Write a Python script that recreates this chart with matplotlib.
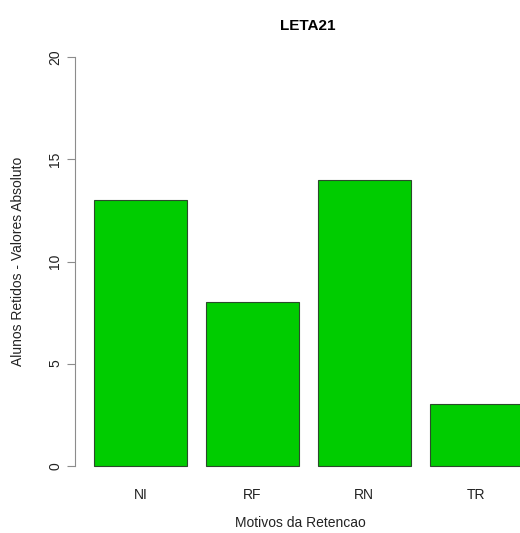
import matplotlib
matplotlib.use('Agg')
import matplotlib.pyplot as plt
import numpy as np

# --- Data ---
categories = ['NI', 'RF', 'RN', 'TR']
values = [13, 8, 14, 3]
y_ticks = [0, 5, 10, 15, 20]

BAR_COLOR = '#00cc00'
AXIS_COLOR = '#8c8c8c'
TEXT = '#222222'

plt.rcParams['font.family'] = ['Liberation Sans', 'DejaVu Sans']

fig = plt.figure(figsize=(5.2, 5.33), dpi=100)
# plot region mimics R barplot (extends past right edge, as in the source)
L, R, B, T = 76.8, 540, 482, 41
ax = fig.add_axes([L / 520, 1 - B / 533, (R - L) / 520, (B - T) / 533])

# R barplot geometry: width 1, space 0.2
lefts = 0.2 + np.arange(len(categories)) * 1.2
centers = lefts + 0.5
ax.bar(centers, values, width=1.0, color=BAR_COLOR, edgecolor='#2b4a2b', linewidth=0.8)

ax.set_xlim(0.016, 4.984)
ax.set_ylim(-0.8, 20.8)

for s in ['top', 'right', 'bottom']:
    ax.spines[s].set_visible(False)
ax.spines['left'].set_bounds(0, 20)
ax.spines['left'].set_color(AXIS_COLOR)
ax.spines['left'].set_position(('outward', 1.5))

ax.set_yticks(y_ticks)
ax.set_yticklabels([str(v) for v in y_ticks], rotation=90, va='center', fontsize=10, color=TEXT)
ax.tick_params(axis='y', length=6, color=AXIS_COLOR, pad=3)

ax.set_xticks(centers)
ax.set_xticklabels(categories, fontsize=10, color=TEXT)
ax.tick_params(axis='x', length=0, pad=4)

ax.set_xlabel('Motivos da Retencao', fontsize=10, color=TEXT, va='center')
ax.xaxis.set_label_coords(0.5 * (520 - L) / (R - L) + 0.0, (B - 523) / (B - T))
ax.xaxis.label.set_x((300 - L) / (R - L))
ax.set_ylabel('Alunos Retidos - Valores Absoluto', fontsize=10, color=TEXT, va='center')
ax.yaxis.set_label_coords((18 - L) / (R - L), 0.5)
fig.text(308 / 520, 1 - 26 / 533, 'LETA21', ha='center', va='center', fontsize=11, fontweight='bold')

fig.savefig('out.png', dpi=100)
